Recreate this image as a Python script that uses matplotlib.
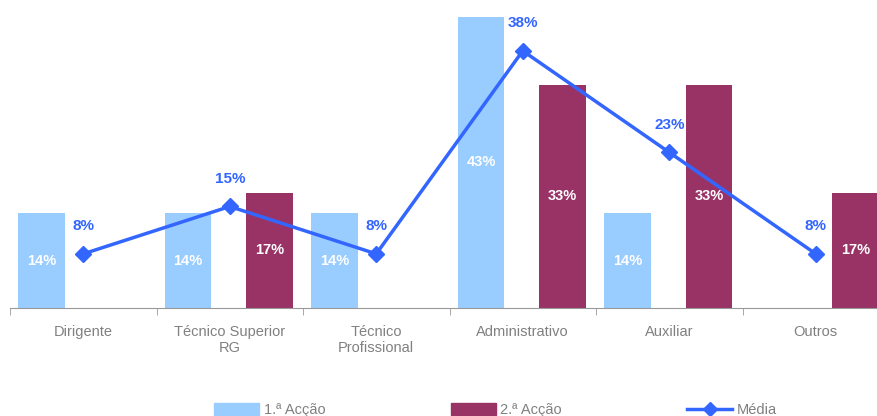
import numpy as np
import matplotlib.pyplot as plt
from matplotlib.patches import Patch
from matplotlib.lines import Line2D

plt.rcParams['font.family'] = ['Liberation Sans', 'DejaVu Sans']

categorias = ['Dirigente', 'Técnico Superior\nRG', 'Técnico\nProfissional',
              'Administrativo', 'Auxiliar', 'Outros']
accao1 = [14, 14, 14, 43, 14, 0]
accao2 = [0, 17, 0, 33, 33, 17]
media = [8, 15, 8, 38, 23, 8]

c_azul = '#99CCFF'
c_bordo = '#993366'
c_linha = '#3366FF'
c_texto = '#808080'

fig = plt.figure(figsize=(8.77, 4.16), dpi=100)
ax = fig.add_axes([10 / 877, (416 - 308) / 416, 1 - 10 / 877, (308 - 17) / 416])

x = np.arange(len(categorias))
w = 0.32
b1 = ax.bar(x - 0.285, accao1, w, color=c_azul, label='1.ª Acção')
b2 = ax.bar(x + 0.271, accao2, w, color=c_bordo, label='2.ª Acção')
ax.plot(x, media, color=c_linha, lw=2.5, marker='D', markersize=8, label='Média')

# rótulos das barras
for bars, vals in [(b1, accao1), (b2, accao2)]:
    for r, v in zip(bars, vals):
        if v > 0:
            ax.text(r.get_x() + r.get_width() / 2, v / 2, f'{v}%', ha='center', va='center',
                    color='white', fontsize=10.5, fontweight='bold')

# rótulos da média
for xi, v in zip(x, media):
    ax.annotate(f'{v}%', (xi, v), xytext=(0, 20), textcoords='offset points',
                ha='center', va='center', color=c_linha, fontsize=11, fontweight='bold')

ax.set_yticks([])
for s in ['top', 'right', 'left']:
    ax.spines[s].set_visible(False)
ax.spines['bottom'].set_color('#999999')

ax.set_xticks(x)
ax.set_xticklabels(categorias, color=c_texto, fontsize=10.5)
ax.tick_params(axis='x', length=0, pad=12)
ax.set_xticks(np.arange(len(categorias) + 1) - 0.5, minor=True)
ax.tick_params(axis='x', which='minor', length=5, color='#999999')

# limites depois dos ticks (set_xticks alarga a vista)
ax.set_ylim(0, 43)
ax.set_xlim(-0.5, -0.5 + 867 / 146.5)

handles = [Patch(color=c_azul), Patch(color=c_bordo),
           Line2D([], [], color=c_linha, lw=2.5, marker='D', markersize=7)]
fig.legend(handles, ['1.ª Acção', '2.ª Acção', 'Média'], loc='center',
           bbox_to_anchor=(0.565, 1 - 410 / 416), ncol=3, frameon=False,
           fontsize=10.5, labelcolor=c_texto, handlelength=3.1, handleheight=0.9,
           handletextpad=0.3, columnspacing=8.6)

fig.savefig('out.png', dpi=100)
